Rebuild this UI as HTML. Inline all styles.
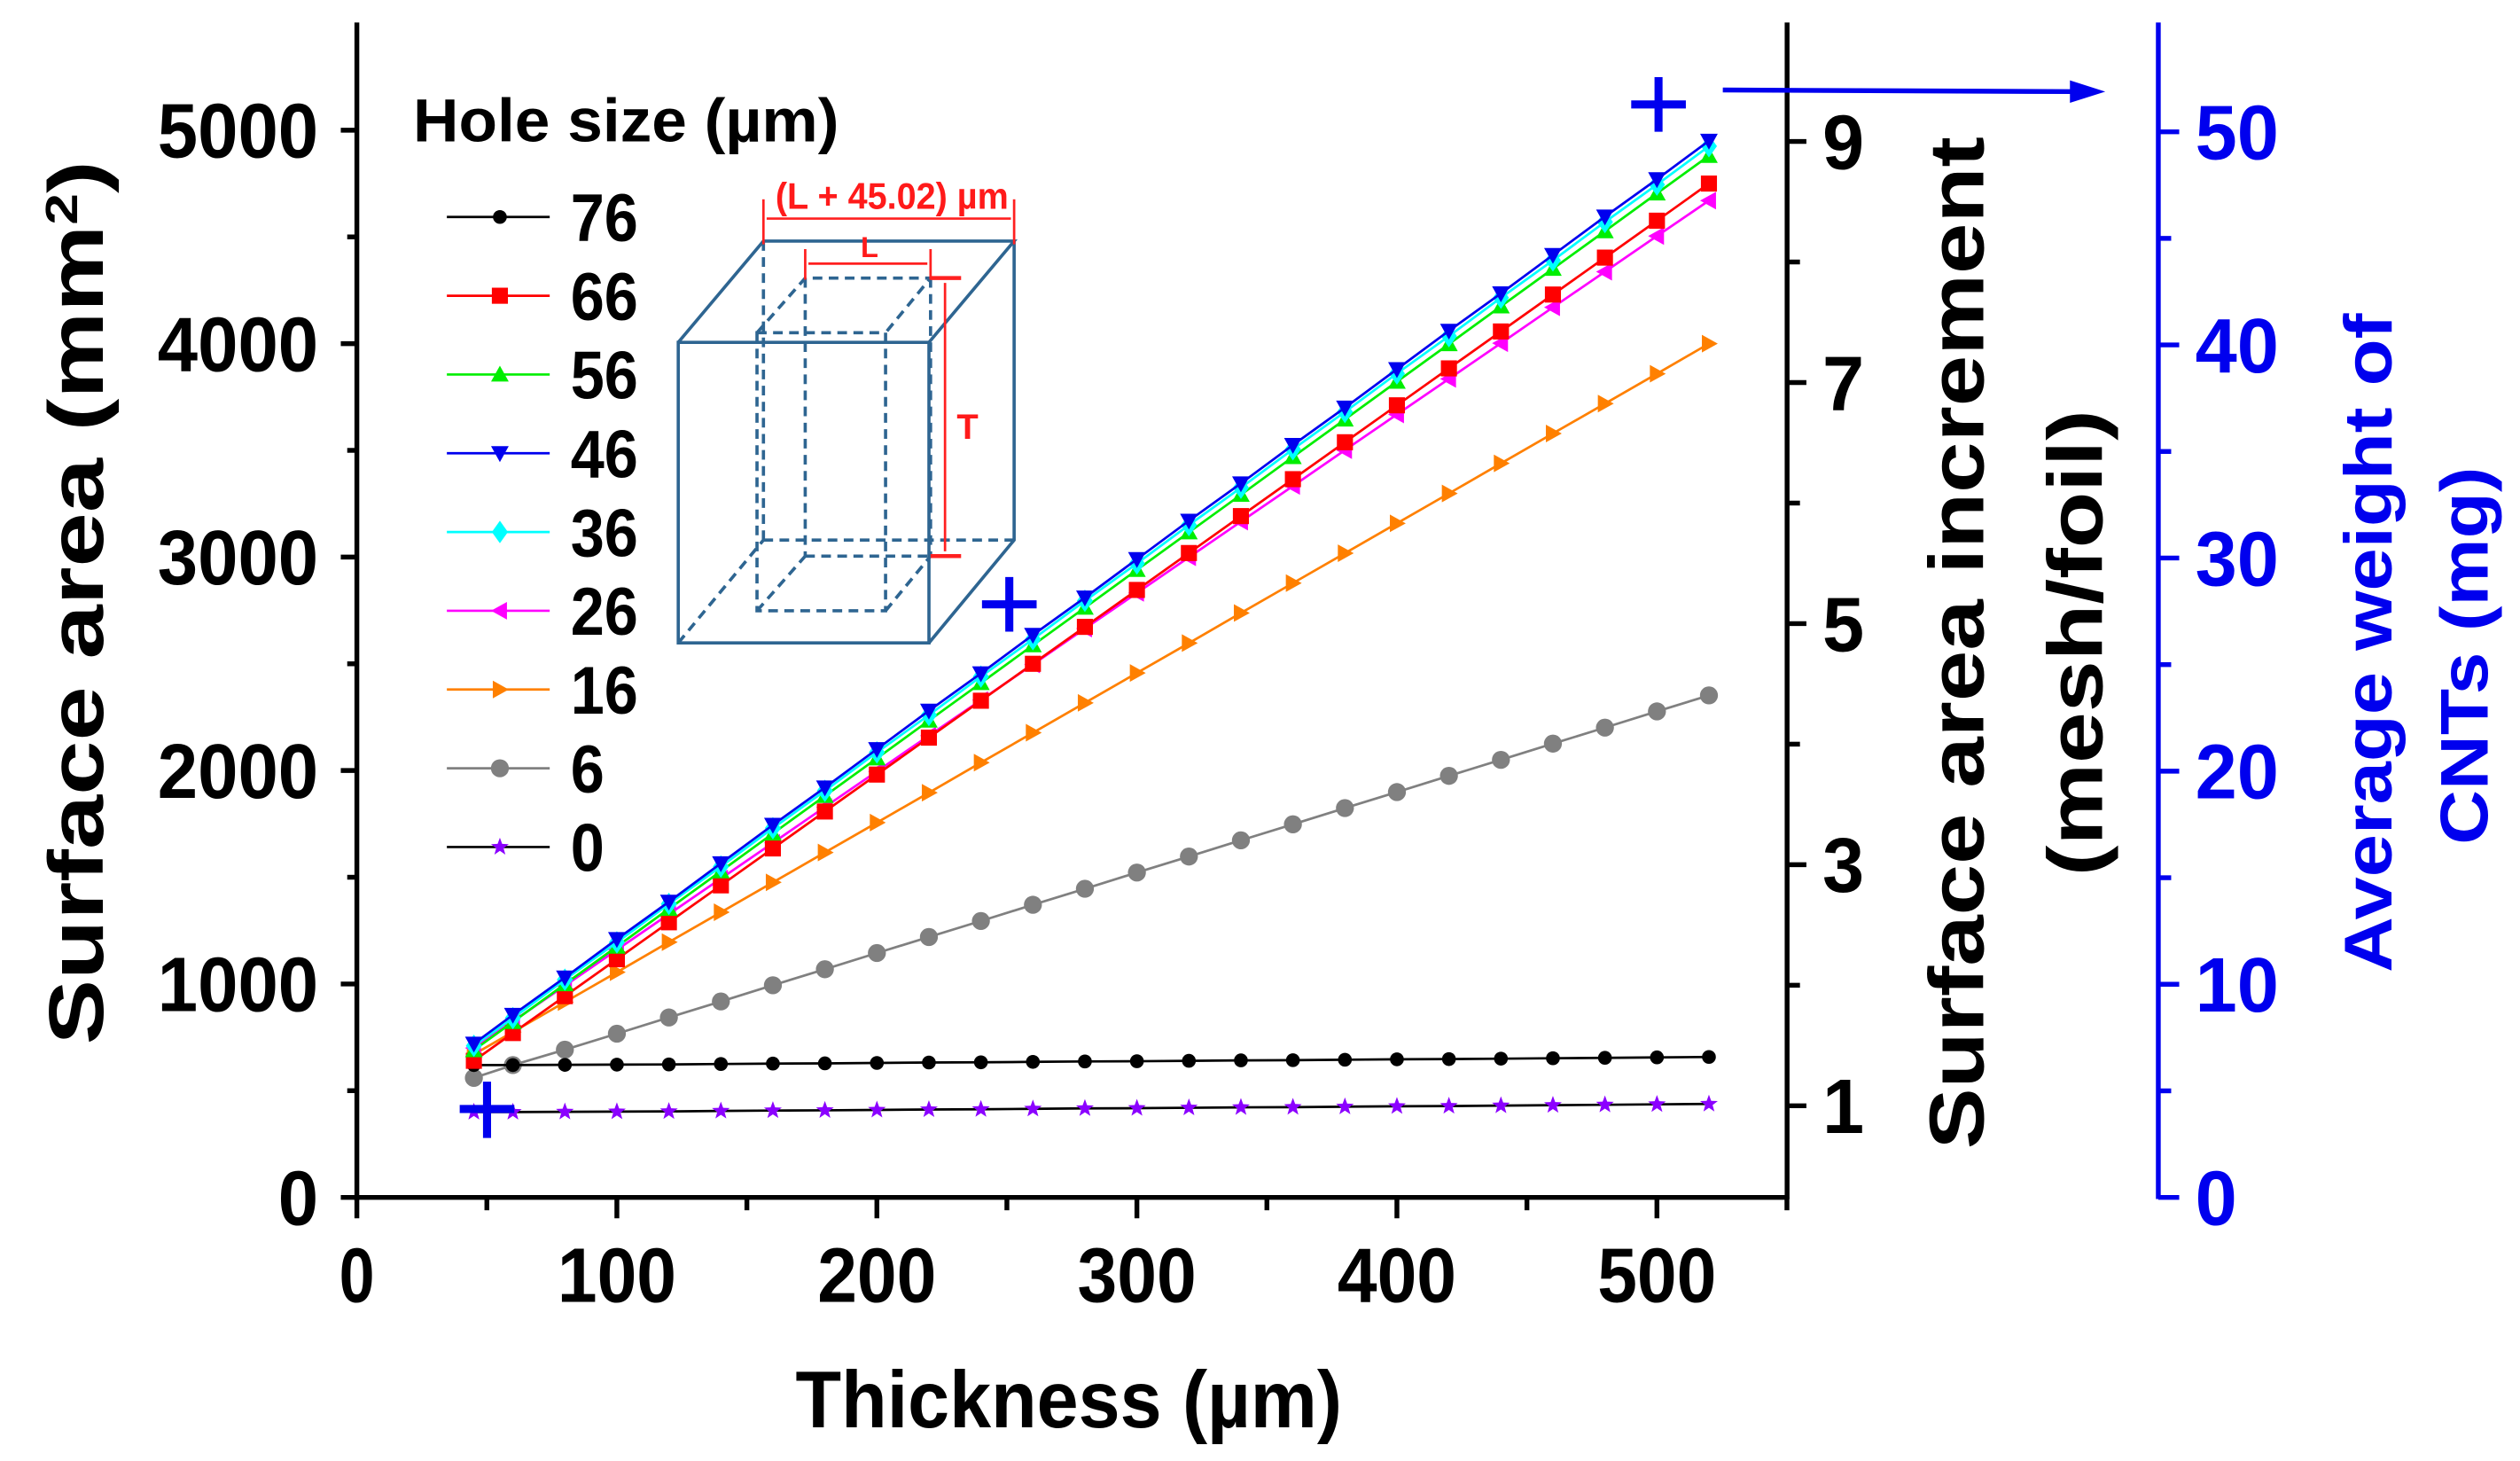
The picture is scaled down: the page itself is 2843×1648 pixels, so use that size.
<!DOCTYPE html>
<html><head><meta charset="utf-8"><style>html,body{margin:0;padding:0;background:#fff}svg{display:block}text{font-family:"Liberation Sans",sans-serif;font-weight:bold}</style></head>
<body>
<svg id="chart" width="2843" height="1648" viewBox="0 0 1568 909" xmlns="http://www.w3.org/2000/svg">
<g id="axes" stroke="#000" stroke-width="3" fill="none">
  <line x1="222" y1="14" x2="222" y2="746"/>
  <line x1="220" y1="745" x2="1112" y2="745"/>
  <line x1="1112" y1="14" x2="1112" y2="746"/>
  <line x1="1343" y1="14" x2="1343" y2="746" stroke="#0000ee"/>
</g>
<g id="ticks"></g>
<g id="inset" fill="none" stroke="#2e6591" stroke-width="2">
  <polygon points="422,213 578,213 578,400 422,400"/>
  <polyline points="422,213 475,150 631,150 578,213"/>
  <polyline points="631,150 631,336 578,400"/>
  <g stroke-dasharray="6,4">
    <line x1="475" y1="150" x2="475" y2="336"/><line x1="475" y1="336" x2="631" y2="336"/><line x1="422" y1="400" x2="475" y2="336"/>
    <polygon points="471,207 551,207 551,380 471,380"/>
    <polyline points="471,207 501,173 579,173 551,207"/>
    <line x1="501" y1="173" x2="501" y2="346"/><line x1="579" y1="173" x2="579" y2="346"/>
    <line x1="501" y1="346" x2="579" y2="346"/><line x1="471" y1="380" x2="501" y2="346"/><line x1="551" y1="380" x2="579" y2="346"/>
  </g>
  <g stroke="#ff2020" stroke-width="1.5" fill="#ff2020">
    <line x1="475" y1="124" x2="475" y2="152"/><line x1="631" y1="124" x2="631" y2="152"/>
    <line x1="477" y1="136" x2="629" y2="136"/>
    <line x1="501" y1="155" x2="501" y2="174"/><line x1="579" y1="155" x2="579" y2="174"/>
    <line x1="503" y1="164" x2="577" y2="164"/>
    <line x1="579" y1="173" x2="598" y2="173" stroke-width="2.5"/><line x1="579" y1="346" x2="598" y2="346" stroke-width="2.5"/>
    <line x1="588" y1="176" x2="588" y2="343"/>
  </g>
  <g fill="#ff1a1a" stroke="none">
    <text x="555" y="130" font-size="23" text-anchor="middle" textLength="145" lengthAdjust="spacingAndGlyphs">(L + 45.02) µm</text>
    <text x="541" y="160" font-size="18" text-anchor="middle">L</text>
    <text x="602" y="273" font-size="22" text-anchor="middle">T</text>
  </g>
</g>
<g id="series"></g>
<g id="legend">
  <text x="257" y="88" font-size="38" textLength="265" lengthAdjust="spacingAndGlyphs">Hole size (µm)</text>
</g>
<g id="annotations" fill="none" stroke="#0000ee" stroke-width="5">
  <path d="M1015,65 H1049 M1032,48 V82"/>
  <path d="M611,376 H645 M628,359 V393"/>
  <path d="M286,690 H320 M303,673 V708"/>
  <line x1="1072" y1="56" x2="1290" y2="57" stroke-width="3"/>
  <polygon points="1288,50 1310,57 1288,64" fill="#0000ee" stroke="none"/>
</g>
<g id="titles">
  <text transform="translate(64,375) rotate(-90)" font-size="48" text-anchor="middle" textLength="550" lengthAdjust="spacingAndGlyphs">Surface area (mm<tspan font-size="28" dy="-16">2</tspan><tspan dy="16">)</tspan></text>
  <text transform="translate(1234,400) rotate(-90)" font-size="48" text-anchor="middle" textLength="630" lengthAdjust="spacingAndGlyphs">Surface area increment</text>
  <text transform="translate(1308,400) rotate(-90)" font-size="48" text-anchor="middle" textLength="290" lengthAdjust="spacingAndGlyphs">(mesh/foil)</text>
  <text transform="translate(1488,400) rotate(-90)" font-size="42" fill="#0000ee" text-anchor="middle" textLength="410" lengthAdjust="spacingAndGlyphs">Average weight of</text>
  <text transform="translate(1548,408) rotate(-90)" font-size="42" fill="#0000ee" text-anchor="middle" textLength="235" lengthAdjust="spacingAndGlyphs">CNTs (mg)</text>
  <text x="665" y="888" font-size="50" text-anchor="middle" textLength="340" lengthAdjust="spacingAndGlyphs">Thickness (µm)</text>
</g>
</svg>
<script>
const xValues=[45,60,80,100,120,140,160,180,200,220,240,260,280,300,320,340,360,380,400,420,440,460,480,500,520];
const seriesNames=["76","66","56","46","36","26","16","6","0"];
const s76=[620,620,621,622,623,625,627,628,630,632,633,635,637,638,640,642,643,645,647,648,650,652,654,656,658];
const s66=[640,770,943,1116,1289,1462,1635,1808,1981,2154,2327,2500,2673,2846,3019,3192,3365,3538,3711,3884,4057,4230,4403,4576,4750];
const s56=[690,822,999,1175,1352,1528,1705,1881,2057,2234,2410,2587,2763,2940,3116,3292,3469,3645,3822,3998,4175,4351,4527,4704,4880];
const s46=[720,855,1030,1210,1385,1565,1745,1920,2100,2280,2455,2635,2810,2990,3170,3345,3525,3700,3880,4060,4235,4415,4595,4770,4950];
const s36=[710,840,1020,1195,1375,1550,1730,1905,2085,2260,2440,2615,2795,2970,3150,3325,3505,3680,3860,4035,4215,4390,4570,4745,4925];
const s26=[700,825,992,1160,1327,1494,1661,1829,1996,2163,2330,2497,2665,2832,2999,3166,3333,3501,3668,3835,4002,4170,4337,4504,4670];
const s16=[670,775,915,1055,1196,1336,1476,1616,1756,1896,2037,2177,2317,2457,2597,2738,2878,3018,3158,3298,3439,3579,3719,3859,4000];
const s6=[560,620,692,767,843,918,994,1069,1145,1220,1295,1371,1446,1522,1597,1673,1748,1824,1899,1975,2050,2126,2201,2277,2352];
const s0=[400,400,401,402,403,405,407,408,410,412,413,415,417,418,420,422,423,425,427,428,430,432,434,436,438];
const xTickLabels=["0","100","200","300","400","500"];
const yTickLabels=["0","1000","2000","3000","4000","5000"];
const rightTickLabels=["1","3","5","7","9"];
const blueTickLabels=["0","10","20","30","40","50"];

const NS="http://www.w3.org/2000/svg";
const xs=v=>222+v*1.618;
const ys=v=>745-v*0.1328;
const yr=v=>688-(v-1)*75;
const yb=v=>745-v*13.26;
function mk(tag,attrs,parent){const e=document.createElementNS(NS,tag);for(const k in attrs)e.setAttribute(k,attrs[k]);parent.appendChild(e);return e;}
const cw=22; // condensed char width for tick labels

const ticks=document.getElementById('ticks');
for(let v=0;v<=550;v+=50){const major=v%100===0;
  const t=mk('line',{x1:xs(v),x2:xs(v),y1:745,y2:major?758:753,stroke:'#000','stroke-width':3},ticks);
  
  }
xTickLabels.forEach(l=>{const t=mk('text',{x:xs(+l),y:810,'font-size':48,'text-anchor':'middle',textLength:l.length*cw+(l.length>1?8:0),lengthAdjust:'spacingAndGlyphs'},ticks);t.textContent=l;
  
  });
for(let v=0;v<=5000;v+=500){const major=v%1000===0;
  const t=mk('line',{x1:major?212:216,x2:222,y1:ys(v),y2:ys(v),stroke:'#000','stroke-width':3},ticks);
  
  }
yTickLabels.forEach(l=>{const t=mk('text',{x:198,y:ys(+l)+17,'font-size':48,'text-anchor':'end',textLength:l.length*25,lengthAdjust:'spacingAndGlyphs'},ticks);t.textContent=l;
  
  });
for(let v=1;v<=9;v++){const major=v%2===1;
  const t=mk('line',{x1:1112,x2:major?1124:1120,y1:yr(v),y2:yr(v),stroke:'#000','stroke-width':3},ticks);
  
  }
rightTickLabels.forEach(l=>{const t=mk('text',{x:1134,y:yr(+l)+17,'font-size':48,textLength:26,lengthAdjust:'spacingAndGlyphs'},ticks);t.textContent=l;
  
  });
for(let v=0;v<=50;v+=5){const major=v%10===0;
  const t=mk('line',{x1:1343,x2:major?1356:1351,y1:yb(v),y2:yb(v),stroke:'#0000ee','stroke-width':3},ticks);
  
  }
blueTickLabels.forEach(l=>{const t=mk('text',{x:1366,y:yb(+l)+17,'font-size':48,fill:'#0000ee',textLength:l.length*26,lengthAdjust:'spacingAndGlyphs'},ticks);t.textContent=l;
  
  });

const seriesData=[s76,s66,s56,s46,s36,s26,s16,s6,s0];
const lineColors=['#000','#ff0000','#00ee00','#0000ee','#00ffff','#ff00ff','#ff8000','#808080','#000'];
const markColors=['#000','#ff0000','#00ee00','#0000ee','#00ffff','#ff00ff','#ff8000','#808080','#8b00ff'];
const shapes=['circle','square','up','down','diamond','left','right','bigcircle','star'];
function marker(g,shape,x,y,c){let e;const r=5.5;
  if(shape==='circle')e=mk('circle',{cx:x,cy:y,r:4.3,fill:c},g);
  else if(shape==='bigcircle')e=mk('circle',{cx:x,cy:y,r:5.6,fill:c},g);
  else if(shape==='square')e=mk('rect',{x:x-5,y:y-5,width:10,height:10,fill:c},g);
  else{let p;
    if(shape==='up')p=[[x,y-r],[x+r,y+r*0.8],[x-r,y+r*0.8]];
    else if(shape==='down')p=[[x,y+r],[x+r,y-r*0.8],[x-r,y-r*0.8]];
    else if(shape==='left')p=[[x-r,y],[x+r*0.8,y-r],[x+r*0.8,y+r]];
    else if(shape==='right')p=[[x+r,y],[x-r*0.8,y-r],[x-r*0.8,y+r]];
    else if(shape==='diamond')p=[[x,y-7],[x+5,y],[x,y+7],[x-5,y]];
    else{p=[];for(let i=0;i<10;i++){const a=-Math.PI/2+i*Math.PI/5,rr=i%2?2.4:5.8;p.push([x+rr*Math.cos(a),y+rr*Math.sin(a)]);}}
    e=mk('polygon',{points:p.map(q=>q.join(',')).join(' '),fill:c},g);}
  return e;}

const sg=document.getElementById('series');
const order=[7,8,0,6,5,1,2,4,3];
order.forEach(i=>{const vals=seriesData[i];
  const g=mk('g',{},sg);
  
  
  const pl=mk('polyline',{points:xValues.map((x,j)=>xs(x)+','+ys(vals[j])).join(' '),fill:'none',stroke:lineColors[i],'stroke-width':1.5},g);
  
  
  xValues.forEach((x,j)=>{const m=marker(g,shapes[i],xs(x),ys(vals[j]),markColors[i]);
    
    });
});

const lg=document.getElementById('legend');
seriesNames.forEach((n,i)=>{const y=135+i*49;
  const g=mk('g',{},lg);
  
  
  mk('line',{x1:278,x2:342,y1:y,y2:y,stroke:lineColors[i],'stroke-width':1.5},g);
  marker(g,shapes[i],311,y,markColors[i]);
  const t=mk('text',{x:355,y:y+15,'font-size':42,textLength:n.length*21,lengthAdjust:'spacingAndGlyphs'},g);t.textContent=n;
});
</script>
</body></html>
